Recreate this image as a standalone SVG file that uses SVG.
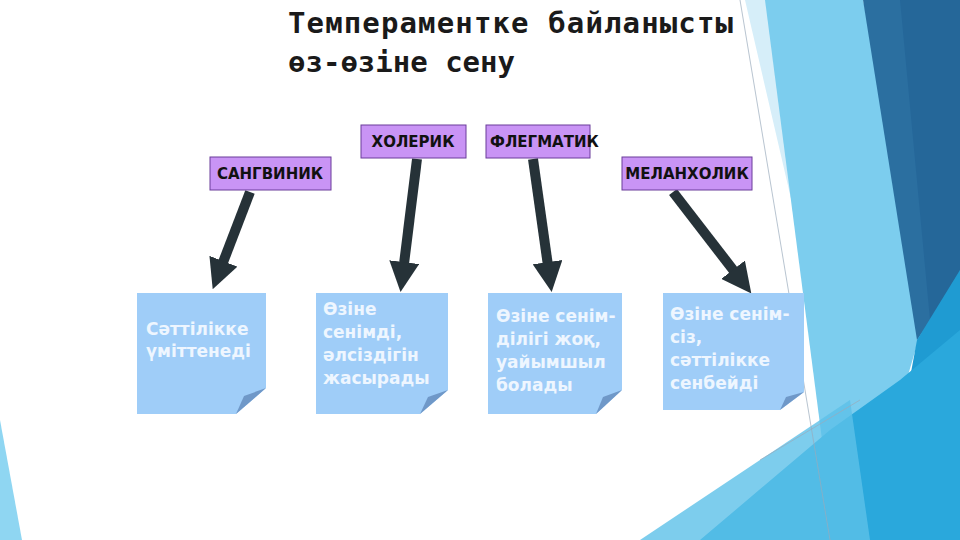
<svg xmlns="http://www.w3.org/2000/svg" width="960" height="540" viewBox="0 0 960 540">
<defs>
<style>
.lbl{fill:#c994f5;stroke:#6a3d9a;stroke-width:1}
.lt{font-family:"DejaVu Sans","Liberation Sans",sans-serif;font-weight:bold;font-size:15px;fill:#111}
.note{fill:#9fcdf8}
.flap{fill:#6f98c8}
.nt{font-family:"DejaVu Sans","Liberation Sans",sans-serif;font-weight:bold;font-size:17px;fill:#eef6ff}
.arr{stroke:#263238;stroke-width:10;fill:none}
.ttl{font-family:"DejaVu Sans Mono","Liberation Mono",monospace;font-size:29px;font-weight:bold;fill:#1a1a1a}
</style>
<marker id="ah" viewBox="0 0 10 10" refX="6" refY="5" markerWidth="3" markerHeight="3" orient="auto" markerUnits="strokeWidth">
<path d="M0,0 L10,5 L0,10 z" fill="#263238"/>
</marker>
</defs>
<rect width="960" height="540" fill="#fff"/>
<g id="background">
<polygon points="745,0 863,0 900,430 960,540 870,540" fill="#d6eef9"/>
<polygon points="765,0 863,0 930,300 860,540 835,540" fill="#7ccdee"/>
<polygon points="863,0 960,0 960,280 917,340" fill="#2b6fa0"/>
<polygon points="900,0 960,0 960,270 930,320" fill="#256799"/>
<polygon points="960,270 917,340 880,540 960,540" fill="#1f9bd2"/>
<polygon points="700,540 830,430 900,380 960,330 960,540" fill="#2aa8dc"/>
<polygon points="640,540 760,460 850,400 870,540" fill="#5cc0e8" opacity="0.8"/>
<polygon points="0,420 0,540 22,540" fill="#8fd6f2"/>
<line x1="740" y1="0" x2="830" y2="540" stroke="#9ab" stroke-width="0.7"/>
<line x1="760" y1="460" x2="860" y2="400" stroke="#9ab" stroke-width="0.7"/>
</g>
<g id="title">
<text class="ttl" x="288" y="33" textLength="445">Темпераментке байланысты</text>
<text class="ttl" x="288" y="72">өз-өзіне сену</text>
</g>
<g id="connectors">
<line class="arr" x1="250" y1="192" x2="217" y2="278" marker-end="url(#ah)"/>
<line class="arr" x1="417" y1="159" x2="402" y2="280" marker-end="url(#ah)"/>
<line class="arr" x1="533" y1="159" x2="550" y2="280" marker-end="url(#ah)"/>
<line class="arr" x1="673" y1="192" x2="744" y2="284" marker-end="url(#ah)"/>
</g>
<g id="sangvinik"><rect class="lbl" x="210" y="157" width="121" height="33"/><text class="lt" x="270" y="179" text-anchor="middle">САНГВИНИК</text></g>
<g id="holerik"><rect class="lbl" x="361" y="125" width="105" height="33"/><text class="lt" x="413" y="147" text-anchor="middle">ХОЛЕРИК</text></g>
<g id="flegmatik"><rect class="lbl" x="486" y="125" width="104" height="33"/><text class="lt" x="490" y="147">ФЛЕГМАТИК</text></g>
<g id="melanholik"><rect class="lbl" x="622" y="157" width="130" height="33"/><text class="lt" x="687" y="179" text-anchor="middle">МЕЛАНХОЛИК</text></g>
<g id="note1"><polygon class="note" points="137,293 266,293 266,388 236,414 137,414"/><polygon class="flap" points="236,414 266,388 244,396"/>
<text class="nt" x="146" y="335">Сәттілікке</text><text class="nt" x="146" y="357">үміттенеді</text></g>
<g id="note2"><polygon class="note" points="316,293 448,293 448,390 420,414 316,414"/><polygon class="flap" points="420,414 448,390 428,397"/>
<text class="nt" x="323" y="315">Өзіне</text><text class="nt" x="323" y="338">сенімді,</text><text class="nt" x="323" y="361">әлсіздігін</text><text class="nt" x="323" y="384">жасырады</text></g>
<g id="note3"><polygon class="note" points="488,293 622,293 622,390 596,414 488,414"/><polygon class="flap" points="596,414 622,390 603,397"/>
<text class="nt" x="496" y="322">Өзіне сенім-</text><text class="nt" x="496" y="345">ділігі жоқ,</text><text class="nt" x="496" y="368">уайымшыл</text><text class="nt" x="496" y="391">болады</text></g>
<g id="note4"><polygon class="note" points="663,293 804,293 804,392 780,410 663,410"/><polygon class="flap" points="780,410 804,392 786,397"/>
<text class="nt" x="670" y="320">Өзіне сенім-</text><text class="nt" x="670" y="343">сіз,</text><text class="nt" x="670" y="366">сәттілікке</text><text class="nt" x="670" y="389">сенбейді</text></g>
</svg>
